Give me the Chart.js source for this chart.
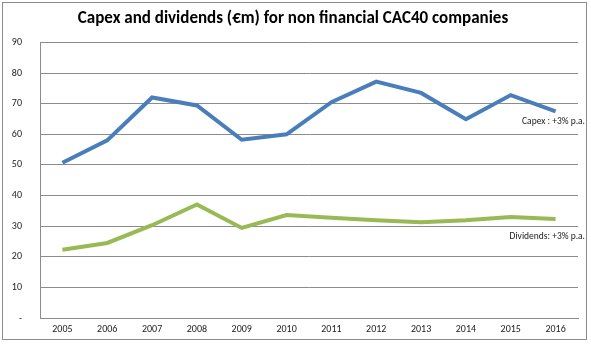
<!DOCTYPE html>
<html>
<head>
<meta charset="utf-8">
<script src="https://cdn.jsdelivr.net/npm/chart.js@4"></script>
<style>
  html, body { margin: 0; padding: 0; background: #fff; }
  #wrap { position: relative; width: 591px; height: 344px; }
  #frame { position: absolute; left: 2px; top: 2px; width: 585px; height: 338px; border: 1px solid #8c8c8c; box-sizing: border-box; }
  canvas { position: absolute; left: 0; top: 0; }
</style>
</head>
<body>
<div id="wrap">
  <div id="frame"></div>
  <canvas id="chart" width="591" height="344"></canvas>
</div>
<script>
// annual figures, €m
const years = ['2005', '2006', '2007', '2008', '2009', '2010', '2011', '2012', '2013', '2014', '2015', '2016'];
const capex = [50.7, 58.0, 72.0, 69.4, 58.2, 60.0, 70.5, 77.2, 73.5, 64.9, 72.8, 67.5];
const dividends = [22.3, 24.5, 30.3, 37.1, 29.4, 33.6, 32.7, 31.9, 31.3, 31.9, 33.0, 32.3];
const seriesNotes = ['Capex : +3% p.a.', 'Dividends: +3% p.a.'];

const fontFamily = "Carlito, Calibri, 'Liberation Sans', Arial, sans-serif";

// text under the last point of each line
const endNotes = {
  id: 'endNotes',
  afterDatasetsDraw(chart) {
    const ctx = chart.ctx;
    const offsets = [10, 18];
    ctx.save();
    ctx.font = '9.5px ' + fontFamily;
    ctx.fillStyle = '#222';
    ctx.textAlign = 'right';
    ctx.textBaseline = 'middle';
    chart.data.datasets.forEach((ds, i) => {
      const pts = chart.getDatasetMeta(i).data;
      const last = pts[pts.length - 1];
      ctx.fillText(seriesNotes[i], 585, last.y + offsets[i]);
    });
    ctx.restore();
  }
};

new Chart(document.getElementById('chart'), {
  type: 'line',
  data: {
    labels: years,
    datasets: [
      { label: 'Capex', data: capex, borderColor: '#4a7ebb', borderWidth: 4, pointRadius: 0, tension: 0 },
      { label: 'Dividends', data: dividends, borderColor: '#98b954', borderWidth: 4, pointRadius: 0, tension: 0 }
    ]
  },
  options: {
    responsive: false,
    animation: false,
    layout: { padding: { left: 8, right: 13, top: 0, bottom: 10 } },
    plugins: {
      legend: { display: false },
      tooltip: { enabled: false },
      title: {
        display: true,
        text: 'Capex and dividends (€m) for non financial CAC40 companies',
        color: '#000',
        font: { family: fontFamily, size: 17, weight: 'bold' },
        padding: { top: 9, bottom: 13 }
      }
    },
    scales: {
      x: {
        offset: true,
        grid: { display: false, drawTicks: false },
        border: { display: true, color: '#8c8c8c', width: 1 },
        afterFit(scale) { scale.height = 16; },
        ticks: { color: '#222', font: { family: fontFamily, size: 10 }, padding: 5, maxRotation: 0 }
      },
      y: {
        min: 0,
        max: 90,
        grid: { color: '#8c8c8c', lineWidth: 1, drawTicks: false },
        border: { display: true, color: '#8c8c8c', width: 1 },
        afterFit(scale) { scale.width = 32; },
        ticks: {
          stepSize: 10,
          color: '#222',
          font: { family: fontFamily, size: 10 },
          padding: 18,
          callback: v => (v === 0 ? '-' : v)
        }
      }
    }
  },
  plugins: [endNotes]
});
</script>
</body>
</html>
